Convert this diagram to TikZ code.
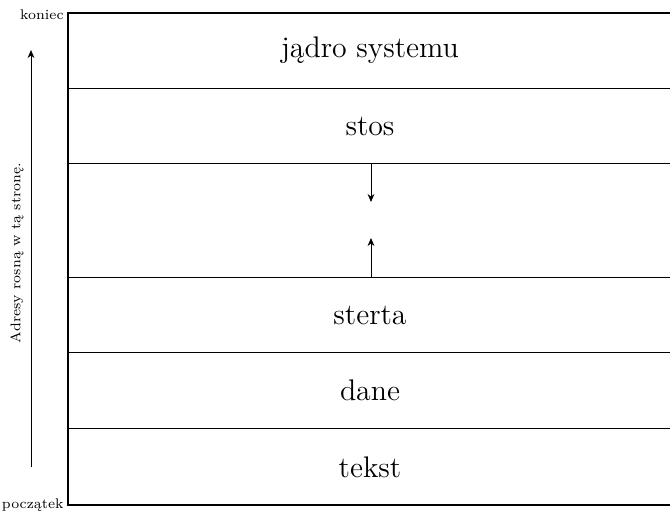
\documentclass[tikz,border=0pt]{standalone}
\usepackage{fontspec}
\usetikzlibrary{arrows.meta}
\begin{document}
\begin{tikzpicture}[x=0.5pt,y=-0.5pt,
  seg/.style={font=\fontsize{14.9}{18}\selectfont},
  small/.style={font=\scriptsize},
  ar/.style={-{Stealth[length=4pt,width=3.4pt]},line width=0.4pt}]
\useasboundingbox (0,0) rectangle (670,510);
% row boundaries
\coordinate (tl) at (68,13);
\coordinate (br) at (672,505);
\draw[line width=0.4pt] (68,88) -- (672,88);
\draw[line width=0.4pt] (68,163) -- (672,163);
\draw[line width=0.4pt] (68,277) -- (672,277);
\draw[line width=0.4pt] (68,352) -- (672,352);
\draw[line width=0.4pt] (68,428) -- (672,428);
\draw[line width=0.7pt] (tl) rectangle (br);
% labels
\node[seg] (kernel) at (370,50) {jądro systemu};
\node[seg] (stack) at (370,126) {stos};
\node[seg] (heap) at (370,315) {sterta};
\node[seg] (data) at (370,390) {dane};
\node[seg] (text) at (370,467) {tekst};
% growth arrows
\coordinate (s0) at (371,163);
\coordinate (s1) at (371,202);
\coordinate (h0) at (371,277);
\coordinate (h1) at (371,238);
\draw[ar] (s0) -- (s1);
\draw[ar] (h0) -- (h1);
% address labels
\node[small,anchor=base east,inner sep=0pt] (end) at (64,19) {koniec};
\node[small,anchor=base east,inner sep=0pt] (start) at (64,508) {początek};
\coordinate (a0) at (31,467);
\coordinate (a1) at (31,50);
\draw[ar] (a0) -- (a1);
\node[small,rotate=90] (dir) at (17,253) {Adresy rosną w tą stronę.};
\end{tikzpicture}
\end{document}
